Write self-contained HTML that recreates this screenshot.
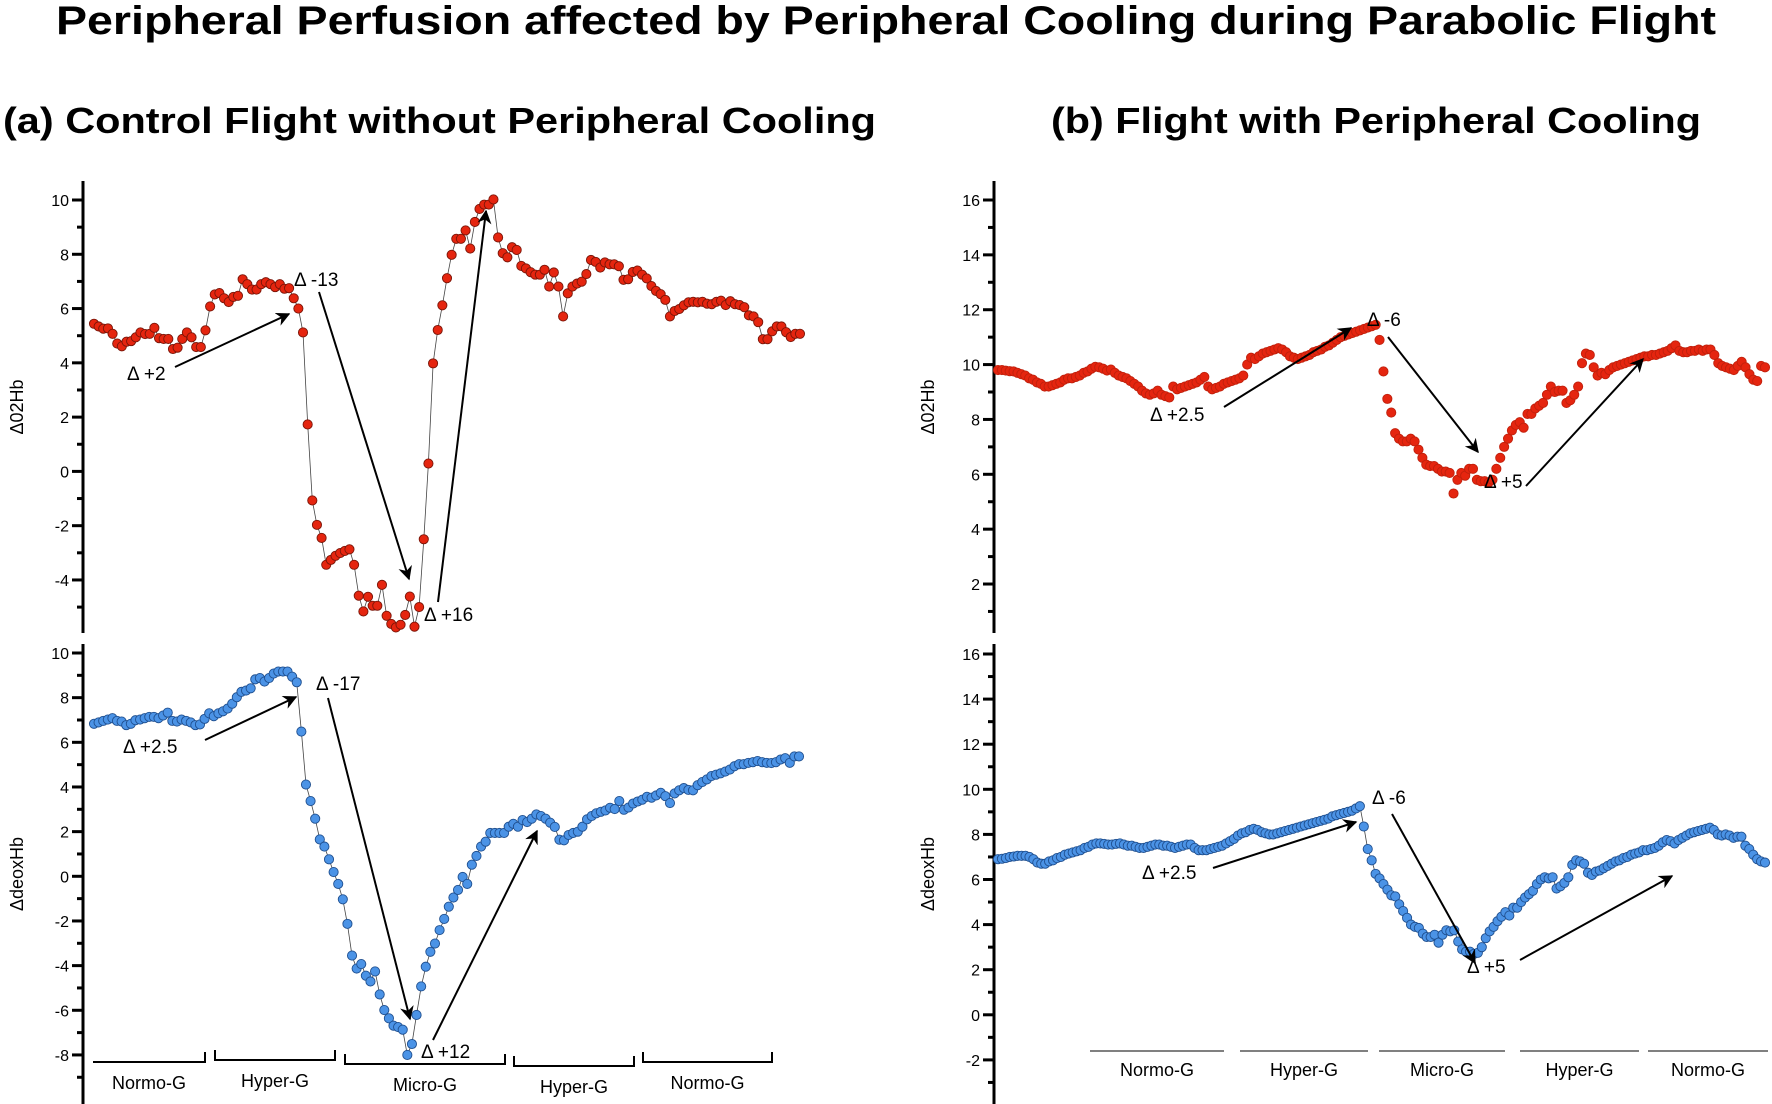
<!DOCTYPE html>
<html><head><meta charset="utf-8"><style>
html,body{margin:0;padding:0;background:#fff;}
svg{display:block;font-family:"Liberation Sans",Arial,sans-serif;}
</style></head>
<body>
<svg id="chart" width="1772" height="1104" viewBox="0 0 1772 1104" xmlns="http://www.w3.org/2000/svg">
<defs><marker id="ah" viewBox="0 0 10 10" refX="9" refY="5" markerWidth="7" markerHeight="7" orient="auto-start-reverse"><path d="M0,0 L10,5 L0,10 L3,5 z" fill="#000"/></marker></defs>
<text x="886" y="34" text-anchor="middle" font-size="40" font-weight="bold" textLength="1660" lengthAdjust="spacingAndGlyphs">Peripheral Perfusion affected by Peripheral Cooling during Parabolic Flight</text>
<text x="3" y="133" font-size="36" font-weight="bold" textLength="873" lengthAdjust="spacingAndGlyphs">(a) Control Flight without Peripheral Cooling</text>
<text x="1051" y="133" font-size="36" font-weight="bold" textLength="650" lengthAdjust="spacingAndGlyphs">(b) Flight with Peripheral Cooling</text>
<g id="plots"></g>
</svg>
<script>
const aO2Hb = [5.44,5.34,5.26,5.27,5.07,4.71,4.61,4.78,4.80,4.94,5.12,5.06,5.07,5.29,4.91,4.88,4.88,4.51,4.56,4.88,5.12,4.94,4.58,4.58,5.2,6.08,6.52,6.57,6.38,6.24,6.43,6.47,7.08,6.9,6.7,6.7,6.9,6.97,6.9,6.79,6.9,6.73,6.75,6.38,6.0,5.12,1.73,-1.07,-1.97,-2.45,-3.44,-3.26,-3.11,-3.01,-2.93,-2.87,-3.44,-4.58,-5.16,-4.62,-4.95,-4.95,-4.18,-5.32,-5.62,-5.75,-5.65,-5.29,-4.61,-5.72,-5.0,-2.5,0.29,3.98,5.21,6.12,7.12,7.98,8.57,8.57,8.88,8.21,9.19,9.67,9.83,9.83,10.02,8.62,8.04,7.89,8.26,8.16,7.57,7.48,7.34,7.25,7.25,7.43,6.81,7.33,6.81,5.71,6.56,6.81,6.92,6.99,7.27,7.79,7.72,7.51,7.7,7.63,7.63,7.56,7.06,7.08,7.35,7.40,7.25,7.11,6.83,6.65,6.53,6.32,5.71,5.91,5.98,6.12,6.23,6.25,6.23,6.25,6.18,6.16,6.25,6.29,6.13,6.27,6.16,6.13,6.05,5.75,5.71,5.5,4.87,4.87,5.16,5.34,5.34,5.13,4.95,5.07,5.07];
const aDeoxHb = [6.83,6.89,6.96,7.02,7.08,6.96,6.93,6.77,6.83,6.99,7.02,7.08,7.14,7.14,7.08,7.2,7.33,6.96,6.93,7.02,6.96,6.89,6.77,6.8,7.05,7.3,7.17,7.3,7.39,7.51,7.73,8.02,8.26,8.32,8.42,8.82,8.88,8.72,8.88,9.08,9.17,9.17,9.17,8.94,8.69,6.48,4.11,3.37,2.58,1.65,1.33,0.76,0.19,-0.34,-1.03,-2.13,-3.55,-4.13,-3.93,-4.45,-4.71,-4.26,-5.29,-5.99,-6.36,-6.69,-6.75,-6.87,-8.0,-7.51,-6.21,-4.93,-4.05,-3.38,-3.01,-2.41,-1.91,-1.36,-0.95,-0.61,-0.03,-0.34,0.52,0.91,1.33,1.55,1.94,1.94,1.94,1.94,2.22,2.35,2.22,2.52,2.43,2.58,2.77,2.7,2.58,2.4,2.21,1.64,1.61,1.85,1.94,2.0,2.22,2.55,2.7,2.82,2.89,2.95,3.07,3.01,3.37,2.98,3.08,3.26,3.35,3.43,3.56,3.52,3.62,3.74,3.59,3.28,3.71,3.85,3.95,3.87,3.85,4.08,4.22,4.34,4.49,4.55,4.61,4.69,4.78,4.93,5.02,5.02,5.08,5.11,5.16,5.11,5.08,5.07,5.11,5.23,5.29,5.08,5.37,5.37];
const bO2Hb = [9.8,9.8,9.78,9.76,9.75,9.7,9.65,9.6,9.5,9.45,9.35,9.3,9.2,9.2,9.25,9.3,9.35,9.45,9.5,9.5,9.55,9.6,9.7,9.75,9.85,9.92,9.9,9.85,9.78,9.82,9.7,9.6,9.55,9.5,9.4,9.3,9.2,9.05,8.95,8.9,8.95,9.05,8.9,8.85,8.8,9.2,9.1,9.15,9.2,9.25,9.3,9.35,9.45,9.55,9.2,9.1,9.15,9.2,9.3,9.35,9.4,9.45,9.5,9.6,10.0,10.25,10.2,10.3,10.4,10.45,10.5,10.55,10.6,10.55,10.45,10.3,10.25,10.2,10.25,10.3,10.35,10.45,10.5,10.55,10.65,10.7,10.8,10.9,11.0,11.05,11.1,11.15,11.2,11.25,11.3,11.35,11.4,11.45,10.9,9.75,8.75,8.25,7.5,7.3,7.2,7.2,7.3,7.2,6.9,6.6,6.35,6.3,6.3,6.2,6.1,6.1,6.05,5.3,5.8,6.05,5.95,6.2,6.2,5.8,5.75,5.75,5.7,5.8,6.2,6.6,7.0,7.3,7.6,7.8,7.9,7.7,8.2,8.2,8.4,8.5,8.6,8.9,9.2,9.0,9.05,9.05,8.6,8.7,8.9,9.2,10.05,10.4,10.35,9.9,9.6,9.7,9.65,9.8,9.9,9.95,10.0,10.05,10.1,10.15,10.2,10.25,10.3,10.3,10.35,10.35,10.4,10.45,10.5,10.6,10.7,10.5,10.45,10.45,10.5,10.5,10.55,10.5,10.55,10.55,10.35,10.05,9.95,9.9,9.85,9.8,9.95,10.1,9.9,9.65,9.45,9.4,9.95,9.9];
const bDeoxHb = [6.9,6.92,6.95,7.0,7.02,7.05,7.05,7.05,7.0,6.9,6.75,6.7,6.7,6.8,6.85,6.95,7.0,7.1,7.15,7.2,7.25,7.3,7.4,7.45,7.55,7.6,7.6,7.58,7.55,7.55,7.58,7.6,7.55,7.5,7.5,7.45,7.4,7.4,7.45,7.5,7.55,7.55,7.5,7.5,7.45,7.4,7.45,7.5,7.55,7.55,7.4,7.3,7.3,7.3,7.35,7.4,7.45,7.5,7.6,7.7,7.8,7.95,8.05,8.1,8.2,8.25,8.2,8.1,8.05,8.0,8.0,8.05,8.1,8.15,8.2,8.25,8.3,8.35,8.4,8.45,8.5,8.55,8.6,8.65,8.7,8.8,8.85,8.9,8.95,9.0,9.05,9.15,9.25,8.35,7.35,6.85,6.25,6.05,5.8,5.55,5.3,5.25,4.9,4.6,4.3,4.0,3.9,3.85,3.6,3.45,3.45,3.55,3.2,3.55,3.75,3.7,3.75,3.25,2.9,2.8,2.8,2.7,2.75,3.0,3.4,3.7,3.9,4.15,4.35,4.55,4.4,4.75,4.75,5.0,5.2,5.35,5.5,5.8,6.0,6.1,6.05,6.1,5.6,5.7,5.85,6.1,6.65,6.85,6.8,6.7,6.3,6.2,6.35,6.4,6.5,6.6,6.7,6.8,6.85,6.95,7.0,7.1,7.15,7.2,7.3,7.3,7.35,7.4,7.5,7.65,7.75,7.7,7.6,7.75,7.85,7.95,8.05,8.1,8.15,8.2,8.25,8.3,8.2,8.0,7.95,8.0,7.95,7.85,7.9,7.9,7.5,7.35,7.1,6.9,6.8,6.75];
const aO2Ticks = [10,8,6,4,2,0,-2,-4];
const aDeoxTicks = [10,8,6,4,2,0,-2,-4,-6,-8];
const bO2Ticks = [16,14,12,10,8,6,4,2];
const bDeoxTicks = [16,14,12,10,8,6,4,2,0,-2];
const phasesA = ["Normo-G","Hyper-G","Micro-G","Hyper-G","Normo-G"];
const phasesB = ["Normo-G","Hyper-G","Micro-G","Hyper-G","Normo-G"];

const NS = "http://www.w3.org/2000/svg";
const root = document.getElementById('plots');
function mk(tag, attrs, parent){const e=document.createElementNS(NS,tag);for(const k in attrs)e.setAttribute(k,attrs[k]);(parent||root).appendChild(e);return e;}

function panel(name, cfg){
  const g = mk('g',{});
  
  
  const yS = v => cfg.y0 + (cfg.v0 - v) * cfg.k;
  const n = cfg.data.length;
  const xS = i => cfg.x1 + (cfg.x2 - cfg.x1) * i / (n - 1);
  const ax = mk('line',{x1:cfg.ax,x2:cfg.ax,y1:cfg.axTop,y2:cfg.axBot,stroke:'#000','stroke-width':3},g);
  
  
  for(let v=cfg.minorMax; v>=cfg.minorMin; v--){
    const y=yS(v); const major = cfg.ticks.includes(v);
    mk('line',{x1:cfg.ax-(major?11:6),x2:cfg.ax,y1:y,y2:y,stroke:'#000','stroke-width':3},g);
  }
  cfg.ticks.forEach(v=>{
    const t=mk('text',{x:cfg.ax-14,y:yS(v)+6,'text-anchor':'end','font-size':16},g);
    t.textContent=String(v);
    
    
  });
  const yt = mk('text',{x:0,y:0,'text-anchor':'middle','font-size':18,transform:`translate(${cfg.ax-60},${(cfg.axTop+cfg.axBot)/2}) rotate(-90)`},g);
  yt.textContent = cfg.title;
  
  
  if(cfg.line){
    const pts = cfg.data.map((v,i)=>xS(i).toFixed(1)+','+yS(v).toFixed(1)).join(' ');
    const pl = mk('polyline',{points:pts,fill:'none',stroke:'#444','stroke-width':0.8},g);
    
    
  }
  cfg.data.forEach((v,i)=>{
    const c = mk('circle',{cx:xS(i),cy:yS(v),r:4.6,fill:cfg.fill,stroke:cfg.stroke,'stroke-width':0.9},g);
    
    
  });
  return g;
}

panel('panel-a-o2hb',{ax:83,axTop:181,axBot:633,y0:200,v0:10,k:27.14,minorMax:10,minorMin:-5,ticks:aO2Ticks,title:'Δ02Hb',data:aO2Hb,x1:94,x2:800,fill:'#e5250f',stroke:'#7a1508',line:true});
panel('panel-a-deoxhb',{ax:83,axTop:644,axBot:1104,y0:653,v0:10,k:22.33,minorMax:10,minorMin:-9,ticks:aDeoxTicks,title:'ΔdeoxHb',data:aDeoxHb,x1:94,x2:799,fill:'#4b93e6',stroke:'#1f4f8f',line:true});
panel('panel-b-o2hb',{ax:994,axTop:181,axBot:633,y0:200,v0:16,k:27.43,minorMax:16,minorMin:1,ticks:bO2Ticks,title:'Δ02Hb',data:bO2Hb,x1:998,x2:1765,fill:'#e5250f',stroke:'#c0200c',line:false});
panel('panel-b-deoxhb',{ax:994,axTop:644,axBot:1104,y0:654,v0:16,k:22.55,minorMax:16,minorMin:-3,ticks:bDeoxTicks,title:'ΔdeoxHb',data:bDeoxHb,x1:998,x2:1765,fill:'#4b93e6',stroke:'#1f4f8f',line:true});

const ann = [
 ['Δ +2',127,380,[175,367,289,314]],['Δ -13',294,286,[319,292,409,579]],['Δ +16',424,621,[438,602,486,211]],
 ['Δ +2.5',123,753,[205,740,296,697]],['Δ -17',316,690,[328,698,410,1019]],['Δ +12',421,1058,[433,1040,537,831]],
 ['Δ -6',1367,326,[1388,337,1478,452]],['Δ +2.5',1150,421,[1224,407,1351,328]],['Δ +5',1484,488,[1526,486,1643,359]],
 ['Δ -6',1372,804,[1392,814,1475,963]],['Δ +2.5',1142,879,[1213,868,1356,822]],['Δ +5',1467,973,[1520,960,1672,876]]
];
ann.forEach(a=>{
  const t=mk('text',{x:a[1],y:a[2],'font-size':19});
  t.textContent=a[0];
  
  
  const l=mk('line',{x1:a[3][0],y1:a[3][1],x2:a[3][2],y2:a[3][3],stroke:'#000','stroke-width':2,'marker-end':'url(#ah)'});
  
  
});

const bracketA = [[93,205,1062,false,true],[215,335,1060,true,true],[345,505,1064,true,true],[514,634,1066,true,true],[643,772,1062,true,true]];
phasesA.forEach((p,i)=>{
  const b=bracketA[i];
  let d=`M${b[0]},${b[2]} L${b[1]},${b[2]}`;
  if(b[3]) d=`M${b[0]},${b[2]-10} L${b[0]},${b[2]} L${b[1]},${b[2]}`;
  if(b[4]) d+=` L${b[1]},${b[2]-10}`;
  const pth=mk('path',{d:d,fill:'none',stroke:'#000','stroke-width':2});
  
  
  const t=mk('text',{x:(b[0]+b[1])/2,y:b[2]+27,'text-anchor':'middle','font-size':18});
  t.textContent=p;
  
  
});
const lineB = [[1090,1224],[1240,1368],[1379,1505],[1520,1639],[1648,1768]];
phasesB.forEach((p,i)=>{
  const b=lineB[i];
  const l=mk('line',{x1:b[0],x2:b[1],y1:1051,y2:1051,stroke:'#000','stroke-width':1});
  
  
  const t=mk('text',{x:(b[0]+b[1])/2,y:1076,'text-anchor':'middle','font-size':18});
  t.textContent=p;
  
  
});
</script>
</body></html>
